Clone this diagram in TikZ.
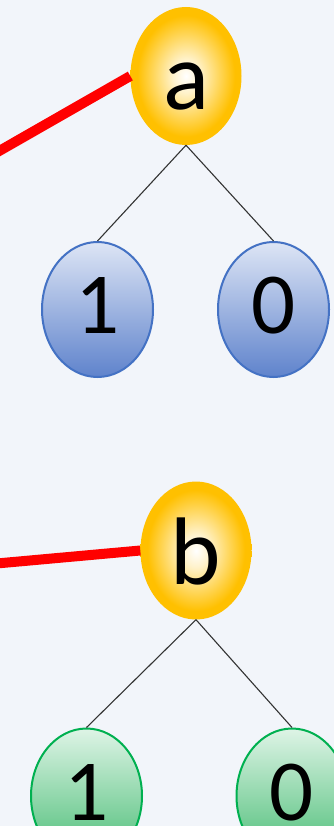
\documentclass[tikz,border=0pt]{standalone}
\usepackage{fontspec}
\setmainfont{Carlito}
\usetikzlibrary{shapes.geometric}
\definecolor{bgcol}{HTML}{F2F5FA}
\definecolor{orangefill}{HTML}{FFC000}
\definecolor{bluetop}{HTML}{DDE5F5}
\definecolor{bluebot}{HTML}{5F83CC}
\definecolor{blueline}{HTML}{4472C4}
\definecolor{greentop}{HTML}{DEF4E6}
\definecolor{greenbot}{HTML}{45BB72}
\definecolor{greenline}{HTML}{00B050}
\pgfdeclareradialshading{glow}{\pgfpoint{0bp}{0bp}}{color(0bp)=(white); color(6bp)=(white!80!orangefill); color(22bp)=(orangefill); color(50bp)=(orangefill)}
\tikzset{
  varnode/.style={ellipse, inner sep=0pt, minimum width=111pt, minimum height=138pt,
    shading=glow, font=\fontsize{96}{100}\selectfont, text height=68pt, text depth=0pt},
  leaf/.style={ellipse, inner sep=0pt, minimum width=111pt, minimum height=135pt,
    line width=2pt, font=\fontsize{87}{90}\selectfont, text height=48pt, text depth=0pt},
  blueleaf/.style={leaf, draw=blueline, top color=bluetop, bottom color=bluebot},
  greenleaf/.style={leaf, draw=greenline, top color=greentop, bottom color=greenbot},
  edge/.style={draw=black!80, line width=1.1pt},
  cut/.style={draw=red, line width=10pt}
}
\begin{document}
\begin{tikzpicture}[x=1pt, y=-1pt]
\clip (0,0) rectangle (334,826);
\fill[bgcol] (0,0) rectangle (334,826);
% upper tree
\node[varnode] (a) at (186,76) {a};
\node[blueleaf] (a1) at (97.5,309.5) {1};
\node[blueleaf] (a0) at (273.5,309.5) {0};
\draw[edge] (a.south) -- (a1.north);
\draw[edge] (a.south) -- (a0.north);
\coordinate (ain) at (-20,162);
\draw[cut] (ain) -- (a.west);
% lower tree
\node[varnode] (b) at (196,550.5) {b};
\node[greenleaf] (b1) at (86.5,796) {1};
\node[greenleaf] (b0) at (292,796) {0};
\draw[edge] (b.south) -- (b1.north);
\draw[edge] (b.south) -- (b0.north);
\coordinate (bin) at (-20,565);
\draw[cut] (bin) -- (b.west);
\end{tikzpicture}
\end{document}
